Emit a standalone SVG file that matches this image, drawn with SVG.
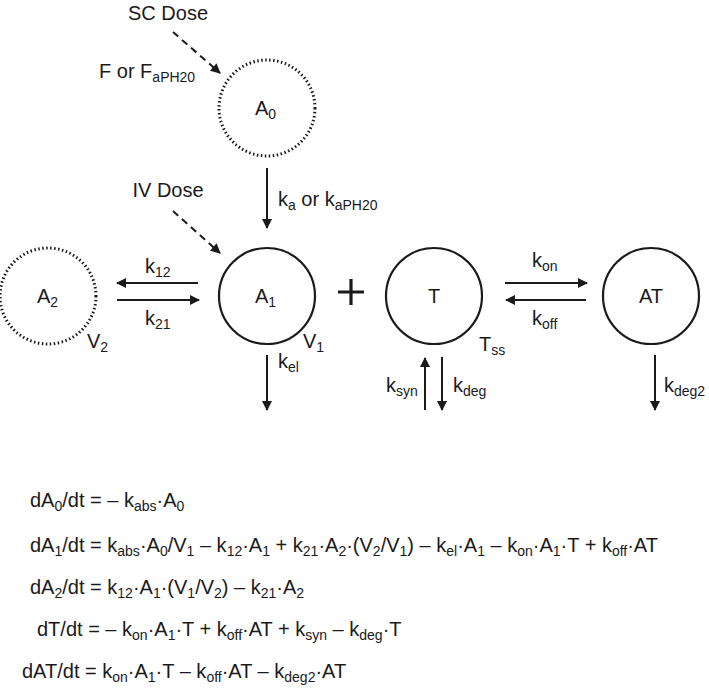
<svg xmlns="http://www.w3.org/2000/svg" width="709" height="688" viewBox="0 0 709 688">
<style>
text{font-family:"Liberation Sans",Arial,sans-serif;font-size:20px;fill:#1a1a1a}
.s{font-size:14px}
.solid{fill:none;stroke:#1a1a1a;stroke-width:2.2}
.dot{fill:none;stroke:#1a1a1a;stroke-width:3;stroke-dasharray:1.5 2.5}
.ln{stroke:#1a1a1a;stroke-width:2;fill:none}
.da{stroke:#1a1a1a;stroke-width:2;fill:none;stroke-dasharray:7 5}
</style>
<defs><marker id="ah" viewBox="0 0 10 10" refX="9" refY="5" markerWidth="6" markerHeight="5" orient="auto"><path d="M0,0L10,5L0,10z" fill="#1a1a1a"/></marker></defs>
<rect width="709" height="688" fill="#fff"/>
<g id="A0"><circle class="dot" cx="267" cy="108" r="48"/><text x="255" y="115">A<tspan class="s" dy="4">0</tspan></text></g>
<g id="A1"><circle class="solid" cx="267" cy="296" r="48"/><text x="255" y="303">A<tspan class="s" dy="4">1</tspan></text><text x="303" y="348">V<tspan class="s" dy="4">1</tspan></text></g>
<g id="A2"><circle class="dot" cx="48" cy="296" r="48"/><text x="37" y="303">A<tspan class="s" dy="4">2</tspan></text><text x="87" y="348">V<tspan class="s" dy="4">2</tspan></text></g>
<g id="T"><circle class="solid" cx="434" cy="296" r="48"/><text x="434" y="303" text-anchor="middle">T</text><text x="479" y="351">T<tspan class="s" dy="4">ss</tspan></text></g>
<g id="AT"><circle class="solid" cx="651" cy="296" r="48"/><text x="651" y="303" text-anchor="middle">AT</text></g>
<g id="plus"><path d="M338,292H364M351,279V305" stroke="#1a1a1a" stroke-width="3.2" fill="none"/></g>
<g id="connectors">
<path class="da" d="M173,32L220,73" marker-end="url(#ah)"/>
<path class="da" d="M173,211L220,253" marker-end="url(#ah)"/>
<path class="ln" d="M267,168V228" marker-end="url(#ah)"/>
<path class="ln" d="M198,283H117" marker-end="url(#ah)"/>
<path class="ln" d="M117,300H199" marker-end="url(#ah)"/>
<path class="ln" d="M505,283H587" marker-end="url(#ah)"/>
<path class="ln" d="M586,300H506" marker-end="url(#ah)"/>
<path class="ln" d="M267,355V410" marker-end="url(#ah)"/>
<path class="ln" d="M425,410V358" marker-end="url(#ah)"/>
<path class="ln" d="M442,357V410" marker-end="url(#ah)"/>
<path class="ln" d="M655,355V410" marker-end="url(#ah)"/>
</g>
<g id="labels">
<text x="168" y="20" text-anchor="middle">SC Dose</text>
<text x="99" y="78">F or F<tspan class="s" dy="4">aPH20</tspan></text>
<text x="168" y="197" text-anchor="middle">IV Dose</text>
<text x="278" y="206">k<tspan class="s" dy="4">a</tspan><tspan dy="-4"> or k</tspan><tspan class="s" dy="4">aPH20</tspan></text>
<text x="145" y="273">k<tspan class="s" dy="4">12</tspan></text>
<text x="145" y="325">k<tspan class="s" dy="4">21</tspan></text>
<text x="532" y="267">k<tspan class="s" dy="4">on</tspan></text>
<text x="532" y="325">k<tspan class="s" dy="4">off</tspan></text>
<text x="278" y="368">k<tspan class="s" dy="4">el</tspan></text>
<text x="386" y="392">k<tspan class="s" dy="4">syn</tspan></text>
<text x="453" y="392">k<tspan class="s" dy="4">deg</tspan></text>
<text x="664" y="392">k<tspan class="s" dy="4">deg2</tspan></text>
</g>
<g id="equations">
<text x="30" y="507">dA<tspan class="s" dy="4">0</tspan><tspan dy="-4">/dt = – k</tspan><tspan class="s" dy="4">abs</tspan><tspan dy="-4">·A</tspan><tspan class="s" dy="4">0</tspan></text>
<text x="30" y="552">dA<tspan class="s" dy="4">1</tspan><tspan dy="-4">/dt = k</tspan><tspan class="s" dy="4">abs</tspan><tspan dy="-4">·A</tspan><tspan class="s" dy="4">0</tspan><tspan dy="-4">/V</tspan><tspan class="s" dy="4">1</tspan><tspan dy="-4"> – k</tspan><tspan class="s" dy="4">12</tspan><tspan dy="-4">·A</tspan><tspan class="s" dy="4">1</tspan><tspan dy="-4"> + k</tspan><tspan class="s" dy="4">21</tspan><tspan dy="-4">·A</tspan><tspan class="s" dy="4">2</tspan><tspan dy="-4">·(V</tspan><tspan class="s" dy="4">2</tspan><tspan dy="-4">/V</tspan><tspan class="s" dy="4">1</tspan><tspan dy="-4">) – k</tspan><tspan class="s" dy="4">el</tspan><tspan dy="-4">·A</tspan><tspan class="s" dy="4">1</tspan><tspan dy="-4"> – k</tspan><tspan class="s" dy="4">on</tspan><tspan dy="-4">·A</tspan><tspan class="s" dy="4">1</tspan><tspan dy="-4">·T + k</tspan><tspan class="s" dy="4">off</tspan><tspan dy="-4">·AT</tspan></text>
<text x="30" y="594">dA<tspan class="s" dy="4">2</tspan><tspan dy="-4">/dt = k</tspan><tspan class="s" dy="4">12</tspan><tspan dy="-4">·A</tspan><tspan class="s" dy="4">1</tspan><tspan dy="-4">·(V</tspan><tspan class="s" dy="4">1</tspan><tspan dy="-4">/V</tspan><tspan class="s" dy="4">2</tspan><tspan dy="-4">) – k</tspan><tspan class="s" dy="4">21</tspan><tspan dy="-4">·A</tspan><tspan class="s" dy="4">2</tspan></text>
<text x="37" y="636">dT/dt = – k<tspan class="s" dy="4">on</tspan><tspan dy="-4">·A</tspan><tspan class="s" dy="4">1</tspan><tspan dy="-4">·T + k</tspan><tspan class="s" dy="4">off</tspan><tspan dy="-4">·AT + k</tspan><tspan class="s" dy="4">syn</tspan><tspan dy="-4"> – k</tspan><tspan class="s" dy="4">deg</tspan><tspan dy="-4">·T</tspan></text>
<text x="22" y="678">dAT/dt = k<tspan class="s" dy="4">on</tspan><tspan dy="-4">·A</tspan><tspan class="s" dy="4">1</tspan><tspan dy="-4">·T – k</tspan><tspan class="s" dy="4">off</tspan><tspan dy="-4">·AT – k</tspan><tspan class="s" dy="4">deg2</tspan><tspan dy="-4">·AT</tspan></text>
</g>
</svg>
